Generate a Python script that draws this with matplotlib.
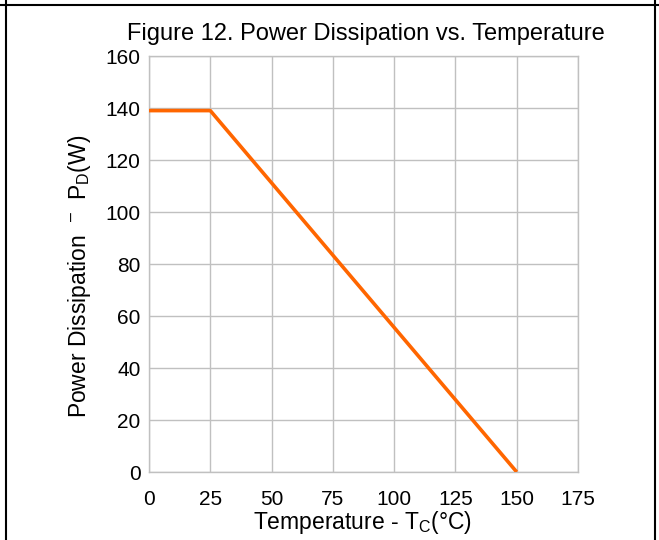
import matplotlib
matplotlib.use("Agg")
import matplotlib.pyplot as plt
from matplotlib.lines import Line2D

plt.rcParams['font.family'] = ['Liberation Sans', 'DejaVu Sans']
plt.rcParams['mathtext.fontset'] = 'custom'
plt.rcParams['mathtext.rm'] = 'Liberation Sans'

temp = [0, 25, 150]
power = [139, 139, 0]
xticks = [0, 25, 50, 75, 100, 125, 150, 175]
yticks = [0, 20, 40, 60, 80, 100, 120, 140, 160]

W, H = 659, 540
fig = plt.figure(figsize=(W/100, H/100), dpi=100)
ax = fig.add_axes([149/W, 1-472/H, (578-149)/W, (472-56)/H])

grid_c = '#c0c0c0'
ax.plot(temp, power, color='#ff6600', lw=2.6, solid_capstyle='butt', zorder=3)
ax.set_xlim(0, 175)
ax.set_ylim(0, 160)
ax.set_xticks(xticks)
ax.set_yticks(yticks)
ax.grid(True, color=grid_c, lw=1.0)
ax.set_axisbelow(True)
for s in ax.spines.values():
    s.set_color(grid_c)
    s.set_linewidth(1.0)
ax.tick_params(length=0, labelsize=15)
ax.tick_params(axis='y', pad=6)
ax.tick_params(axis='x', pad=13)

fig.text(366/W, 1-34/H, 'Figure 12. Power Dissipation vs. Temperature',
         ha='center', va='center', fontsize=17)
fig.text(363/W, 1-522/H, r'Temperature - T$_\mathregular{C}$(°C)',
         ha='center', va='center', fontsize=16.5)
fig.text(80/W, 1-276/H, r'Power Dissipation  $^{\mathregular{–}}$  P$_\mathregular{D}$(W)',
         ha='center', va='center', rotation=90, fontsize=16.5)

# border lines
fig.add_artist(Line2D([0, 1], [1-5/H, 1-5/H], color='black', lw=1.5, transform=fig.transFigure))
fig.add_artist(Line2D([6/W, 6/W], [0, 1], color='black', lw=1.5, transform=fig.transFigure))
fig.add_artist(Line2D([655/W, 655/W], [0, 1], color='black', lw=1.5, transform=fig.transFigure))

fig.savefig('out.png', dpi=100)
